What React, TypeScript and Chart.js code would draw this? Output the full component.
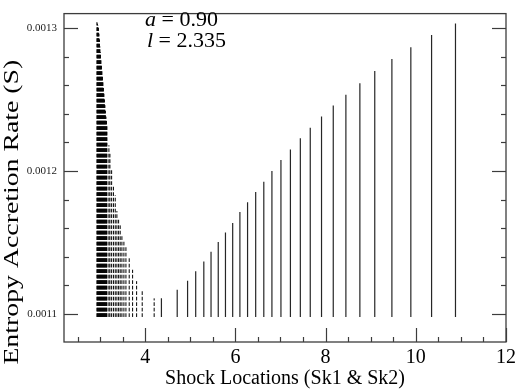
import React, { useEffect, useRef } from 'react';
import { Chart, registerables } from 'chart.js';

Chart.register(...registerables);

// ---- axis ranges ----
const X_MIN = 2.2;
const X_MAX = 12;
const Y_MIN = 0.0010805;
const Y_MAX = 0.00131;
const BASE = 0.001098; // lower end of every drop line

// ---- Sk1 cluster (dashed drop lines) ----
const clusterX = [
  2.930, 2.941, 2.952, 2.963, 2.975, 2.986, 2.997, 3.008, 3.019, 3.030,
  3.041, 3.052, 3.063, 3.074, 3.085, 3.096, 3.107, 3.118, 3.130, 3.141,
  3.152, 3.196, 3.218, 3.256, 3.296, 3.336, 3.373, 3.411, 3.446, 3.484,
  3.528, 3.573, 3.646, 3.721, 3.810, 3.934, 4.199,
];
const clusterTop = [
  0.001304, 0.001303, 0.001302, 0.001300, 0.001296, 0.001292, 0.001287, 0.001283, 0.001278, 0.001274,
  0.001270, 0.001266, 0.001262, 0.001258, 0.001254, 0.001250, 0.001246, 0.001242, 0.001238, 0.001235,
  0.001232, 0.001218, 0.001212, 0.001201, 0.001190, 0.001183, 0.001172, 0.001167, 0.001162, 0.001155,
  0.001151, 0.001147, 0.001139, 0.001131, 0.001123, 0.001116, 0.001111,
];

// ---- Sk2 (solid drop lines) ----
const shockX = [
  4.36, 4.71, 4.94, 5.12, 5.30, 5.46, 5.62, 5.78, 5.94, 6.10,
  6.27, 6.45, 6.63, 6.81, 7.01, 7.22, 7.44, 7.66, 7.91, 8.17,
  8.45, 8.76, 9.09, 9.47, 9.89, 10.35, 10.88,
];
const shockTop = [
  0.001111, 0.001117, 0.0011233, 0.0011299, 0.0011367, 0.0011435, 0.0011503, 0.0011571, 0.0011637, 0.0011714,
  0.0011782, 0.0011854, 0.0011925, 0.0012000, 0.0012077, 0.0012150, 0.0012229, 0.0012303, 0.0012381, 0.0012458,
  0.0012533, 0.0012614, 0.0012698, 0.0012782, 0.0012864, 0.0012950, 0.0013031,
];

// ---- ticks ----
const xTickLabels = [4, 6, 8, 10, 12];
const yTickLabels = [0.0011, 0.0012, 0.0013];
const X_MINOR_STEP = 0.5;
const Y_MINOR_STEP = 0.00002;

const SERIF = '"Liberation Serif", "Times New Roman", serif';

const frameTicksPlugin = {
  id: 'frameTicks',
  afterDatasetsDraw(chart: any) {
    const { ctx, chartArea: a, scales } = chart;
    const xs = scales.x;
    const ys = scales.y;
    ctx.save();
    ctx.strokeStyle = '#3c3c3c';
    ctx.lineWidth = 1.3;
    ctx.strokeRect(a.left, a.top, a.right - a.left, a.bottom - a.top);
    const seg = (x1: number, y1: number, x2: number, y2: number) => {
      ctx.beginPath();
      ctx.moveTo(x1, y1);
      ctx.lineTo(x2, y2);
      ctx.stroke();
    };
    ctx.lineWidth = 1.2;
    // y ticks (left and right, inward)
    for (let i = Math.ceil(Y_MIN / Y_MINOR_STEP); i * Y_MINOR_STEP <= Y_MAX + 1e-12; i++) {
      const v = i * Y_MINOR_STEP;
      const major = i % 5 === 0;
      const len = major ? 14 : 5;
      const py = Math.round(ys.getPixelForValue(v)) + 0.5;
      seg(a.left, py, a.left + len, py);
      seg(a.right, py, a.right - len, py);
    }
    // x ticks (bottom, inward)
    for (let i = Math.ceil(X_MIN / X_MINOR_STEP); i * X_MINOR_STEP <= X_MAX + 1e-9; i++) {
      const v = i * X_MINOR_STEP;
      const major = i % 4 === 0;
      const len = major ? 14 : 5;
      const px = Math.round(xs.getPixelForValue(v)) + 0.5;
      seg(px, a.bottom, px, a.bottom - len);
    }
    ctx.restore();
  },
};

const annotationPlugin = {
  id: 'annot',
  afterDraw(chart: any) {
    const { ctx, chartArea: a } = chart;
    ctx.save();
    ctx.fillStyle = '#000';
    ctx.textBaseline = 'alphabetic';
    const lines = [
      { sym: 'a', rest: ' = 0.90', dx: 81, base: 26 },
      { sym: 'l', rest: ' = 2.335', dx: 83, base: 47 },
    ];
    for (const l of lines) {
      const x0 = a.left + l.dx;
      ctx.font = `italic 22px ${SERIF}`;
      ctx.fillText(l.sym, x0, l.base);
      const w = ctx.measureText(l.sym).width;
      ctx.font = `22px ${SERIF}`;
      ctx.fillText(l.rest, x0 + w, l.base);
    }
    ctx.restore();
  },
};

// Stretch the y-axis title along its length, like the reference
const TITLE_STRETCH = 1.39;
const TITLE_SHIFT = -35;
const stretchTitlePlugin = {
  id: 'stretchTitle',
  beforeDraw(chart: any) {
    const s = chart.scales.y;
    if (s && !s.__patched) {
      const orig = s.drawTitle.bind(s);
      s.drawTitle = function () {
        const ctx = s.ctx;
        ctx.save();
        ctx.translate(0, TITLE_SHIFT);
        ctx.scale(1, TITLE_STRETCH);
        orig();
        ctx.restore();
      };
      s.__patched = true;
    }
  },
};

export default function App() {
  const ref = useRef<HTMLCanvasElement | null>(null);

  useEffect(() => {
    if (!ref.current) return;
    const datasets: any[] = [];
    clusterX.forEach((x, i) => {
      datasets.push({
        data: [
          { x, y: BASE },
          { x, y: clusterTop[i] },
        ],
        borderColor: '#000',
        borderWidth: 1,
        borderDash: [3.7, 1.8],
        pointRadius: 0,
        fill: false,
      });
    });
    shockX.forEach((x, i) => {
      datasets.push({
        data: [
          { x, y: BASE },
          { x, y: shockTop[i] },
        ],
        borderColor: '#262626',
        borderWidth: 1.2,
        pointRadius: 0,
        fill: false,
      });
    });

    const chart = new Chart(ref.current, {
      type: 'line',
      data: { datasets },
      plugins: [stretchTitlePlugin, frameTicksPlugin, annotationPlugin],
      options: {
        animation: false,
        responsive: false,
        events: [],
        layout: { padding: { left: 0, right: 13, top: 4, bottom: 0 } },
        plugins: {
          legend: { display: false },
          tooltip: { enabled: false },
          title: { display: false },
        },
        scales: {
          x: {
            type: 'linear',
            min: X_MIN,
            max: X_MAX,
            grid: { display: false, drawTicks: false },
            border: { display: false },
            afterBuildTicks: (scale: any) => {
              scale.ticks = xTickLabels.map((v) => ({ value: v }));
            },
            afterFit: (scale: any) => {
              scale.height = 49;
            },
            ticks: {
              color: '#000',
              padding: 4,
              maxRotation: 0,
              autoSkip: false,
              font: { family: SERIF, size: 20 },
              callback: (v: any) => String(v),
            },
            title: {
              display: true,
              text: 'Shock Locations (Sk1 & Sk2)',
              color: '#000',
              font: { family: SERIF, size: 20, lineHeight: 1.2 },
              padding: { top: 0, bottom: 0 },
            },
          },
          y: {
            type: 'linear',
            min: Y_MIN,
            max: Y_MAX,
            grid: { display: false, drawTicks: false },
            border: { display: false },
            afterBuildTicks: (scale: any) => {
              scale.ticks = yTickLabels.map((v) => ({ value: v }));
            },
            afterFit: (scale: any) => {
              scale.width = 64;
            },
            ticks: {
              color: '#222',
              padding: 7,
              autoSkip: false,
              font: { family: SERIF, size: 11 },
              callback: (v: any) => Number(v).toFixed(4),
            },
            title: {
              display: true,
              text: 'Entropy Accretion Rate (S)',
              color: '#000',
              font: { family: SERIF, size: 20, lineHeight: 1.2 },
              padding: { top: 1, bottom: 0 },
            },
          },
        },
      },
    });
    return () => chart.destroy();
  }, []);

  return (
    <div style={{ position: 'fixed', left: 0, top: 0, width: 520, height: 391, background: '#fff' }}>
      <canvas ref={ref} width={520} height={391} style={{ display: 'block' }} />
    </div>
  );
}
